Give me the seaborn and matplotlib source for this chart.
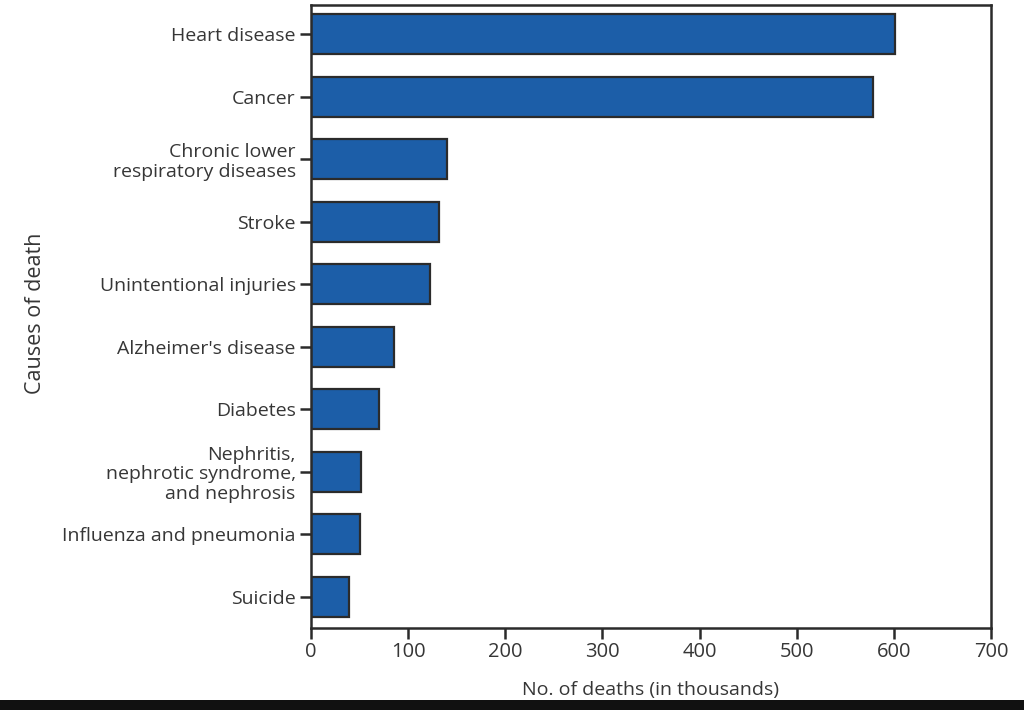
import matplotlib
matplotlib.use("Agg")
import matplotlib.pyplot as plt
import seaborn as sns
import pandas as pd
from matplotlib.patches import Rectangle

causes = [
    "Heart disease",
    "Cancer",
    "Chronic lower\nrespiratory diseases",
    "Stroke",
    "Unintentional injuries",
    "Alzheimer's disease",
    "Diabetes",
    "Nephritis,\nnephrotic syndrome,\nand nephrosis",
    "Influenza and pneumonia",
    "Suicide",
]
deaths = [601, 579, 140, 132, 122.5, 85.5, 70, 51.5, 50.5, 39]
x_ticks = [0, 100, 200, 300, 400, 500, 600, 700]

df = pd.DataFrame({"cause": causes, "deaths": deaths})

sns.set_theme(style="white")
plt.rcParams["font.family"] = ["Open Sans", "DejaVu Sans"]

ink = "#2b2b2b"
text_col = "#363636"

fig = plt.figure(figsize=(10.24, 7.1), dpi=100)
ax = fig.add_axes([0.3037, 0.1155, 0.664, 0.8775])

sns.barplot(data=df, x="deaths", y="cause", orient="h", color="#1c5ea8",
            saturation=1, width=0.64, edgecolor=ink, linewidth=1.6, ax=ax)

ax.set_xlim(0, 700)
ax.set_ylim(9.5, -0.47)
ax.set_xticks(x_ticks)
ax.set_xticklabels([str(t) for t in x_ticks], fontsize=14.5, color=text_col)
ax.tick_params(axis="y", labelsize=14, labelcolor=text_col)
for lab in ax.get_yticklabels():
    lab.set_multialignment("right")
    lab.set_linespacing(1.1)

ax.tick_params(axis="both", which="major", direction="out", length=8, width=1.8,
               color=ink, left=True, bottom=True)
ax.tick_params(axis="y", pad=3)
ax.tick_params(axis="x", pad=2)
for sp in ax.spines.values():
    sp.set_visible(True)
    sp.set_color(ink)
    sp.set_linewidth(1.8)

ax.set_xlabel("No. of deaths (in thousands)", fontsize=14, color=text_col, labelpad=14)
ax.set_ylabel("Causes of death", fontsize=15.5, color=text_col)
ax.yaxis.set_label_coords(-0.39, 0.505)

fig.patches.append(Rectangle((0, 0), 1, 10 / 710, transform=fig.transFigure,
                             facecolor="#111111", edgecolor="none"))

fig.savefig("out.png", dpi=100)
